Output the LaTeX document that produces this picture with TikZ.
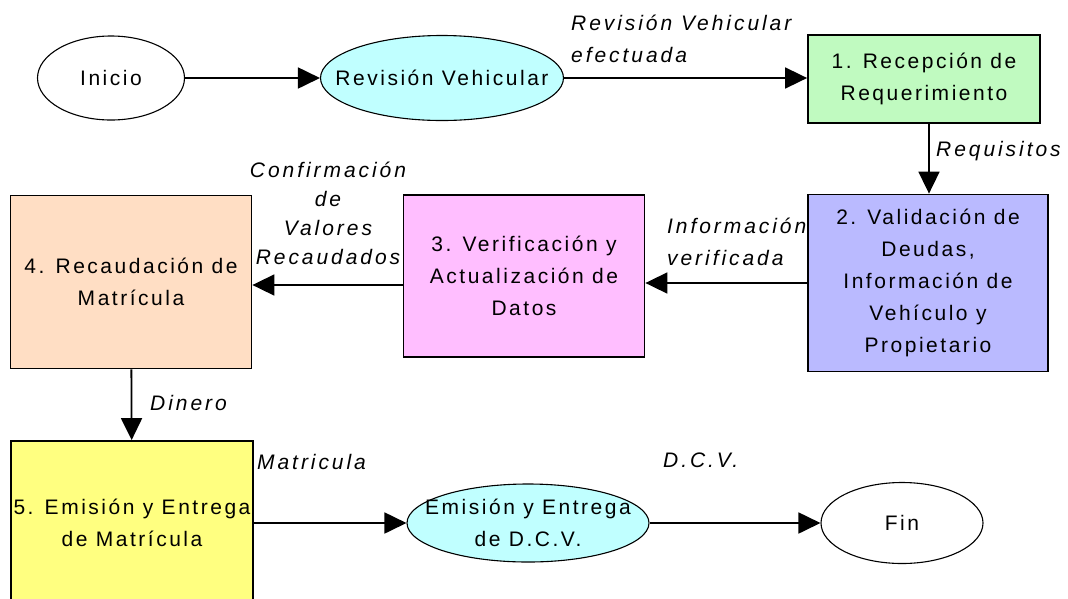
\documentclass[tikz,border=0pt]{standalone}
\usepackage{fontspec}
\setmainfont[LetterSpace=12]{Liberation Sans}
\usetikzlibrary{arrows.meta,shapes.geometric,positioning}
\definecolor{BoxGreen}{RGB}{192,250,192}
\definecolor{BoxLila}{RGB}{186,186,255}
\definecolor{BoxPink}{RGB}{255,190,255}
\definecolor{BoxPeach}{RGB}{255,222,196}
\definecolor{BoxYellow}{RGB}{255,255,128}
\definecolor{EllCyan}{RGB}{192,255,255}
\begin{document}
\begin{tikzpicture}[x=1pt,y=-1pt,>={Triangle[length=22pt,width=21pt]},
    every node/.append style={font=\fontsize{21}{32}\selectfont},
    proc/.style={draw,line width=1.8pt,align=center,inner sep=0pt},
    term/.style={draw,ellipse,line width=1.1pt,align=center,inner xsep=-40pt,inner ysep=0pt},
    flow/.style={->,line width=1.8pt},
    lbl/.style={font=\fontsize{21}{32}\selectfont\itshape\addfontfeature{LetterSpace=14},align=left,inner sep=0pt}]
        \useasboundingbox (0,0) rectangle (1068,598);
        \node[term,minimum width=147pt,minimum height=84pt] (inicio) at (111,78) {Inicio};
        \node[term,fill=EllCyan,minimum width=243pt,minimum height=85pt] (revision) at (442,78) {Revisión Vehicular};
        \node[proc,fill=BoxGreen,minimum width=232pt,minimum height=88pt] (recep) at (924,79) {1. Recepción de\\Requerimiento};
        \node[proc,fill=BoxLila,minimum width=240pt,minimum height=177pt] (valid) at (928,283) {2. Validación de\\Deudas,\\Información de\\Vehículo y\\Propietario};
        \node[proc,fill=BoxPink,minimum width=241pt,minimum height=162pt] (verif) at (524,276) {3. Verificación y\\Actualización de\\Datos};
        \node[proc,fill=BoxPeach,minimum width=241pt,minimum height=173pt] (recaud) at (131,282) {4. Recaudación de\\Matrícula};
        \node[proc,fill=BoxYellow,minimum width=242pt,minimum height=164pt] (emis) at (132,523) {5. Emisión y Entrega\\de Matrícula};
        \node[term,fill=EllCyan,minimum width=242pt,minimum height=78pt] (dcv) at (528,523) {Emisión y Entrega\\de D.C.V.};
        \node[term,minimum width=162pt,minimum height=81pt] (fin) at (902,523) {Fin};
        \draw[flow] (inicio) -- (revision);
        \draw[flow] (revision.east) -- (revision.east -| recep.west);
        \draw[flow] ([xshift=5pt]recep.south) -- ([xshift=5pt]recep.south |- valid.north);
        \draw[flow] (valid.west) -- (valid.west -| verif.east);
        \draw[flow] ([yshift=-9pt]verif.west) -- ([yshift=-9pt]verif.west -| recaud.east);
        \draw[flow] (recaud) -- (emis);
        \draw[flow] (emis) -- (dcv);
        \draw[flow] (dcv) -- (fin);
        \node[lbl,anchor=west] (lrev) at (571,39) {Revisión Vehicular\\efectuada};
        \node[lbl,anchor=west] (lreq) at (936,151) {Requisitos};
        \node[lbl,anchor=west] (linf) at (667,242) {Información\\verificada};
        \node[lbl,align=center,font=\fontsize{21}{29}\selectfont\itshape\addfontfeature{LetterSpace=14}] (lconf) at (328,213) {Confirmación\\de\\Valores\\Recaudados};
        \node[lbl,anchor=west] (ldin) at (150,403) {Dinero};
        \node[lbl,anchor=west] (lmat) at (257,462) {Matricula};
        \node[lbl,anchor=west] (ldcv) at (663,460) {D.C.V.};
      \end{tikzpicture}
\end{document}
